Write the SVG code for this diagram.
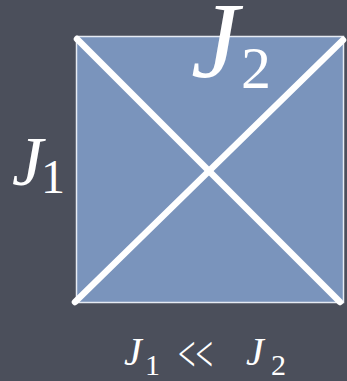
<svg xmlns="http://www.w3.org/2000/svg" width="347" height="381" viewBox="0 0 347 381">
<style>
.diag{stroke:#fff;stroke-width:6.5;stroke-linecap:round}
.t{font-family:"Liberation Serif","DejaVu Serif",serif;fill:#fff}
.i{font-style:italic}
</style>
<rect width="347" height="381" fill="#4b4f5b"/>
<g id="square">
<rect x="76.5" y="36.5" width="267" height="266" fill="#7a94bc" stroke="#e6ebf3" stroke-width="1.5"/>
</g>
<g id="connectors">
<line class="diag" x1="77" y1="39" x2="340" y2="302"/>
<line class="diag" x1="343" y1="40" x2="75" y2="302"/>
</g>
<g id="label-J2">
<text class="t i" x="191" y="77" font-size="108">J</text>
<text class="t" x="241" y="88" font-size="60">2</text>
</g>
<g id="label-J1">
<text class="t i" x="12" y="185" font-size="70">J</text>
<text class="t" x="41" y="193" font-size="48">1</text>
</g>
<g id="label-bottom">
<text class="t i" x="124" y="365" font-size="40">J</text>
<text class="t" x="145" y="375" font-size="30">1</text>
<text class="t" x="178" y="371" font-size="50" textLength="35" lengthAdjust="spacingAndGlyphs">&lt;&lt;</text>
<text class="t i" x="246" y="365" font-size="40">J</text>
<text class="t" x="271" y="375" font-size="30">2</text>
</g>
</svg>
